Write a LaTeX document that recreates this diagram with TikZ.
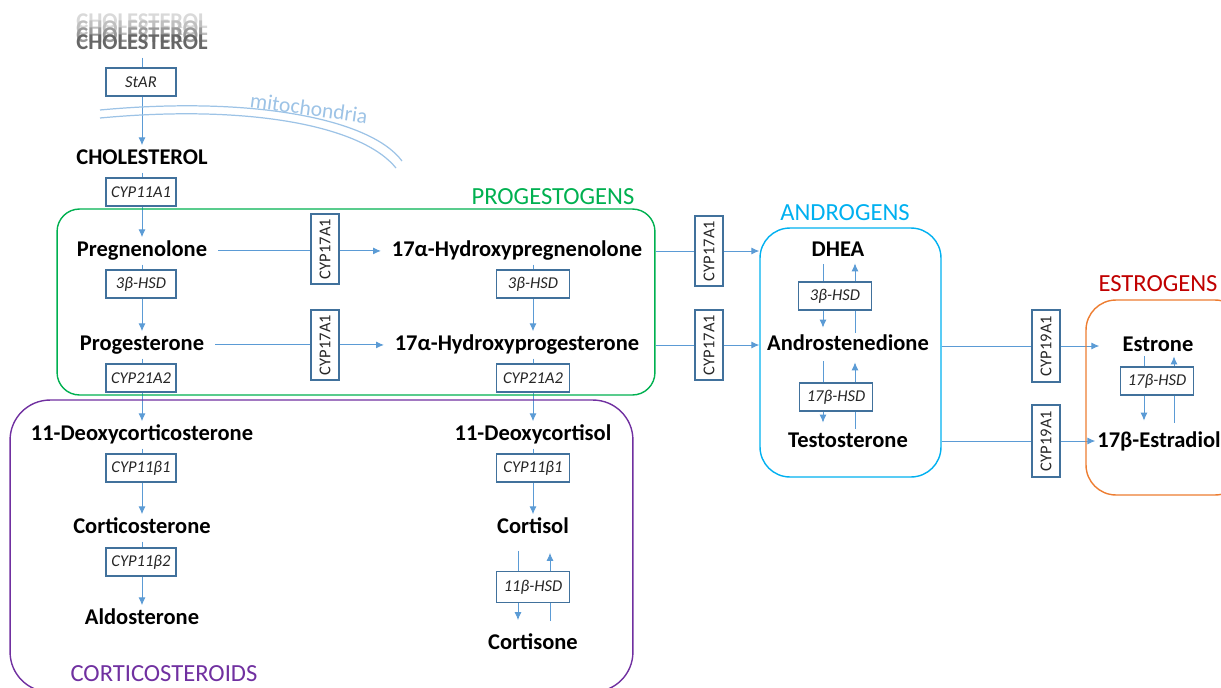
\documentclass[tikz,border=0pt]{standalone}
\usepackage{fontspec}
\setmainfont{Carlito}
\usetikzlibrary{arrows.meta,backgrounds,calc}

\definecolor{FlowBlue}{RGB}{91,155,213}
\definecolor{BoxBlue}{RGB}{65,113,156}
\definecolor{MitoBlue}{RGB}{157,195,230}
\definecolor{ProgGreen}{RGB}{0,176,80}
\definecolor{AndCyan}{RGB}{0,176,240}
\definecolor{EstRed}{RGB}{192,0,0}
\definecolor{EstOrange}{RGB}{237,125,49}
\definecolor{CortPurple}{RGB}{112,48,160}

\tikzstyle{MolNode}=[font=\bfseries\fontsize{12.8}{15}\selectfont, inner xsep=6pt, inner ysep=2pt, text height=8.6pt, text depth=2.6pt, yshift=-1.1pt]
\tikzstyle{EnzNode}=[rectangle, draw=BoxBlue, fill=white, line width=0.7pt, minimum width=1.4cm, minimum height=0.56cm, inner sep=1pt, font=\itshape\fontsize{9.4}{11}\selectfont, text=black!85]
\tikzstyle{WideEnzNode}=[EnzNode, minimum width=1.46cm]
\tikzstyle{SideEnzNode}=[EnzNode, rotate=90, font=\fontsize{9.4}{11}\selectfont]
\tikzstyle{GroupBox}=[rectangle, draw, line width=0.8pt, inner sep=0pt]
\tikzstyle{GroupTitle}=[font=\fontsize{14}{16}\selectfont]
\tikzstyle{FlowLine}=[FlowBlue, line width=0.55pt]
\tikzstyle{FlowEdge}=[FlowLine, ->]
\tikzstyle{MitoLine}=[MitoBlue, line width=0.7pt]
\tikzset{>={Latex[length=4.5pt,width=4pt]}}

\begin{document}
\begin{tikzpicture}[x=0.02cm, y=-0.02cm]
\useasboundingbox (0,0) rectangle (1221,687);

% groups
\node[GroupBox, draw=ProgGreen, rounded corners=0.45cm, minimum width=11.96cm, minimum height=3.72cm](ProgBox) at (356,302) {};
\node[GroupTitle, text=ProgGreen](ProgTitle) at (553,197) {PROGESTOGENS};
\node[GroupBox, draw=CortPurple, rounded corners=0.8cm, minimum width=12.46cm, minimum height=5.84cm](CortBox) at (321.5,546) {};
\node[GroupTitle, text=CortPurple](CortTitle) at (164,674) {CORTICOSTEROIDS};
\node[GroupBox, draw=AndCyan, rounded corners=0.6cm, minimum width=3.62cm, minimum height=4.98cm](AndBox) at (850.5,352.5) {};
\node[GroupTitle, text=AndCyan](AndTitle) at (845,213) {ANDROGENS};
\node[GroupBox, draw=EstOrange, rounded corners=0.6cm, minimum width=3.18cm, minimum height=3.9cm](EstBox) at (1165.5,397.5) {};
\node[GroupTitle, text=EstRed](EstTitle) at (1158,284) {ESTROGENS};

% cholesterol import
\foreach \dy/\shade in {21/15, 14/25, 7/40}
  \node[MolNode, text=black!\shade](CholGhost\dy) at (142,{42-\dy}) {CHOLESTEROL};
\node[MolNode, text=black!60](CholOut) at (142,42) {CHOLESTEROL};
\node[EnzNode](StAR) at (141,82) {StAR};
\draw[MitoLine] (100,110) .. controls (250,96) and (370,118) .. (402,161);
\draw[MitoLine] (100,118) .. controls (250,104) and (362,126) .. (396,168);
\node[font=\fontsize{12.3}{14}\selectfont, text=MitoBlue, rotate=-8](MitoLabel) at (309,108) {mitochondria};

% left column
\node[MolNode](Chol) at (142,157) {CHOLESTEROL};
\node[EnzNode](CypSCC) at (141,192) {CYP11A1};
\node[MolNode](Preg) at (142,249) {Pregnenolone};
\node[EnzNode](HsdPreg) at (141,284) {3β-HSD};
\node[MolNode](Prog) at (142,343) {Progesterone};
\node[EnzNode](CypProg) at (141,378) {CYP21A2};
\node[MolNode](Doc) at (142,433) {11-Deoxycorticosterone};
\node[EnzNode](CypDoc) at (141,468) {CYP11β1};
\node[MolNode](Cort) at (142,526) {Corticosterone};
\node[EnzNode](CypCort) at (141,562) {CYP11β2};
\node[MolNode](Aldo) at (142,617) {Aldosterone};

\node[SideEnzNode](LyasePreg) at (325,249) {CYP17A1};
\node[SideEnzNode](LyaseProg) at (325,345) {CYP17A1};

% right column
\node[MolNode](OhPreg) at (517,249) {17α-Hydroxypregnenolone};
\node[WideEnzNode](HsdOhPreg) at (533,284) {3β-HSD};
\node[MolNode](OhProg) at (517,343) {17α-Hydroxyprogesterone};
\node[WideEnzNode](CypOhProg) at (533,378) {CYP21A2};
\node[MolNode](Dcol) at (533,433) {11-Deoxycortisol};
\node[WideEnzNode](CypDcol) at (533,468) {CYP11β1};
\node[MolNode](Cortisol) at (533,526) {Cortisol};
\node[WideEnzNode, minimum height=0.62cm](HsdCortisol) at (533,587) {11β-HSD};
\node[MolNode](Cortisone) at (533,642) {Cortisone};

\node[SideEnzNode](LyaseOhPreg) at (709,251) {CYP17A1};
\node[SideEnzNode](LyaseOhProg) at (709,345) {CYP17A1};

% androgens, estrogens
\node[MolNode](Dhea) at (838,249) {DHEA};
\node[WideEnzNode](HsdDhea) at (835,296) {3β-HSD};
\node[MolNode](Andro) at (848,343) {Androstenedione};
\node[WideEnzNode](HsdAndro) at (836,397) {17β-HSD};
\node[MolNode](Testo) at (848,440) {Testosterone};

\node[SideEnzNode, minimum width=1.44cm](AromAndro) at (1046,346) {CYP19A1};
\node[SideEnzNode, minimum width=1.44cm](AromTesto) at (1046,441) {CYP19A1};

\node[MolNode](Estrone) at (1158,344) {Estrone};
\node[WideEnzNode](HsdEstrone) at (1157,381) {17β-HSD};
\node[MolNode](Estradiol) at (1159,440) {17β-Estradiol};

\begin{pgfonlayer}{background}
\draw[FlowEdge](CholOut) -- (Chol);
\draw[FlowEdge](Chol) -- (Preg);
\draw[FlowEdge](Preg) -- (Prog);
\draw[FlowEdge](Prog) -- (Doc);
\draw[FlowEdge](Doc) -- (Cort);
\draw[FlowEdge](Cort) -- (Aldo);
\draw[FlowEdge](Preg) -- (OhPreg);
\draw[FlowEdge](Prog) -- (OhProg);
\draw[FlowEdge](OhPreg.south -| HsdOhPreg) -- (OhProg.north -| HsdOhPreg);
\draw[FlowEdge](OhProg.south -| CypOhProg) -- (Dcol);
\draw[FlowEdge](Dcol) -- (Cortisol);
\draw[FlowEdge]($(HsdCortisol.north)+(-15,-20)$) -- ($(HsdCortisol.south)+(-15,17)$);
\draw[FlowEdge]($(HsdCortisol.south)+(17,18)$) -- ($(HsdCortisol.north)+(17,-18)$);

\draw[FlowEdge](ProgBox.east |- LyaseOhPreg) -- (AndBox.west |- LyaseOhPreg);
\draw[FlowEdge](ProgBox.east |- LyaseOhProg) -- (AndBox.west |- LyaseOhProg);
\draw[FlowEdge]($(HsdDhea.north)+(-12,-17)$) -- ($(HsdDhea.south)+(-12,17)$);
\draw[FlowEdge]($(HsdDhea.south)+(20,22)$) -- ($(HsdDhea.north)+(20,-18)$);
\draw[FlowEdge]($(HsdAndro.north)+(-13,-21)$) -- ($(HsdAndro.south)+(-13,11)$);
\draw[FlowEdge]($(HsdAndro.south)+(19,17)$) -- ($(HsdAndro.north)+(19,-20)$);

\draw[FlowEdge](AndBox.east |- AromAndro) -- ($(EstBox.west |- AromAndro)+(14,0)$);
\draw[FlowEdge](AndBox.east |- AromTesto) -- ($(EstBox.west |- AromTesto)+(10,0)$);
\draw[FlowEdge]($(HsdEstrone.north)+(-13,-10)$) -- ($(HsdEstrone.south)+(-13,25)$);
\draw[FlowEdge]($(HsdEstrone.south)+(17,27)$) -- ($(HsdEstrone.north)+(17,-10)$);
\end{pgfonlayer}
\end{tikzpicture}
\end{document}
